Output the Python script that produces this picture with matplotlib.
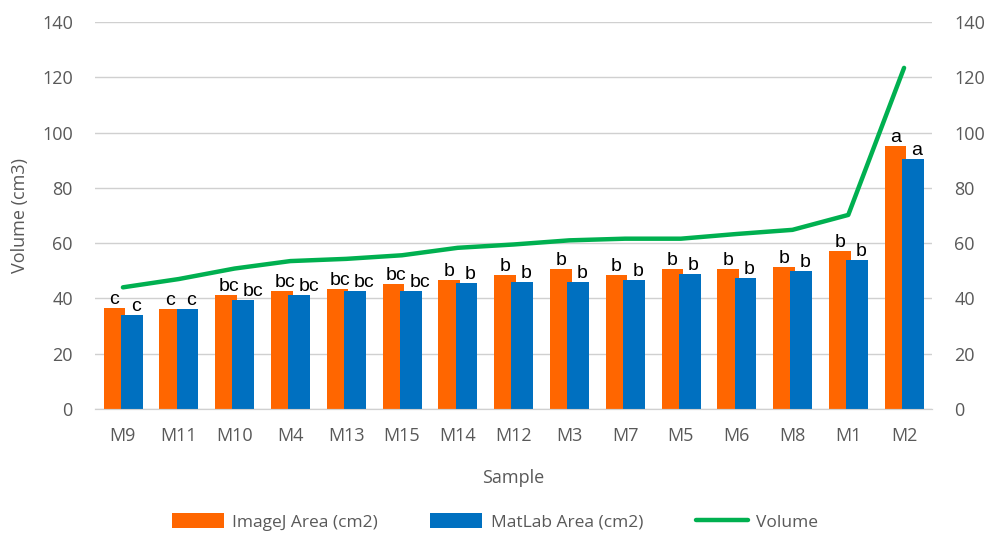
import matplotlib.pyplot as plt
import numpy as np

samples = ['M9', 'M11', 'M10', 'M4', 'M13', 'M15', 'M14', 'M12', 'M3', 'M7',
           'M5', 'M6', 'M8', 'M1', 'M2']
imagej = [36.5, 36.2, 41.2, 42.7, 43.3, 45.2, 46.7, 48.5, 50.6, 48.5,
          50.6, 50.5, 51.5, 57.3, 95.3]
matlab = [34.0, 36.2, 39.5, 41.2, 42.7, 42.7, 45.5, 45.8, 45.8, 46.7,
          48.7, 47.3, 49.9, 53.9, 90.4]
volume = [44.0, 47.0, 50.8, 53.5, 54.3, 55.6, 58.3, 59.5, 61.0, 61.6,
          61.6, 63.3, 64.8, 70.2, 123.4]
imagej_grp = ['c', 'c', 'bc', 'bc', 'bc', 'bc', 'b', 'b', 'b', 'b', 'b', 'b', 'b', 'b', 'a']
matlab_grp = ['c', 'c', 'bc', 'bc', 'bc', 'bc', 'b', 'b', 'b', 'b', 'b', 'b', 'b', 'b', 'a']

orange = '#FF6600'
blue = '#0070C0'
green = '#00B050'
grey = '#595959'

plt.rcParams['font.family'] = ['Open Sans', 'DejaVu Sans']

fig = plt.figure(figsize=(9.96, 5.36), dpi=100)
ax = fig.add_axes([0.0954, 0.237, 0.8403, 0.722])
ax2 = ax.twinx()

x = np.arange(len(samples))
w = 0.39
b1 = ax.bar(x - 0.152, imagej, w, color=orange, label='ImageJ Area (cm2)', zorder=2)
b2 = ax.bar(x + 0.158, matlab, w, color=blue, label='MatLab Area (cm2)', zorder=3)

# letters sit a bit to the right of the bar centre, two-letter ones more so
for i in range(len(samples)):
    d1 = 0.05 if len(imagej_grp[i]) > 1 else 0.0
    d2 = 0.17 if len(matlab_grp[i]) > 1 else 0.07
    ax.text(x[i] - 0.152 + d1, imagej[i], imagej_grp[i], ha='center', va='bottom',
            fontsize=14, family='Liberation Sans', color='black', zorder=4)
    ax.text(x[i] + 0.158 + d2, matlab[i], matlab_grp[i], ha='center', va='bottom',
            fontsize=14, family='Liberation Sans', color='black', zorder=4)

ln, = ax2.plot(x, volume, color=green, lw=3.2, label='Volume', solid_capstyle='round')

for a in (ax, ax2):
    a.set_ylim(0, 140)
    a.set_yticks(range(0, 141, 20))
    a.tick_params(axis='y', length=0, labelsize=13, labelcolor=grey, pad=16)
    for s in ('top', 'left', 'right'):
        a.spines[s].set_visible(False)
    a.spines['bottom'].set_color('#D0D0D0')
ax.set_xlim(-0.5, len(samples) - 0.5)
ax.set_xticks(x)
ax.set_xticklabels(samples)
ax.tick_params(axis='x', length=0, labelsize=13, labelcolor=grey, pad=13)
ax.yaxis.grid(True, color='#D0D0D0', lw=1, zorder=0)
ax.set_axisbelow(True)

ax.set_ylabel('Volume (cm3)', fontsize=13, color=grey, labelpad=9)
ax.set_xlabel('Sample', fontsize=13, color=grey, labelpad=17)

fig.legend([b1, b2, ln], ['ImageJ Area (cm2)', 'MatLab Area (cm2)', 'Volume'],
           loc='center', bbox_to_anchor=(0.497, 0.026), ncol=3, frameon=False,
           fontsize=12.5, labelcolor=grey, handlelength=3.0, handleheight=0.9,
           columnspacing=3.0, handletextpad=0.5)

fig.savefig('out.png', dpi=100)
